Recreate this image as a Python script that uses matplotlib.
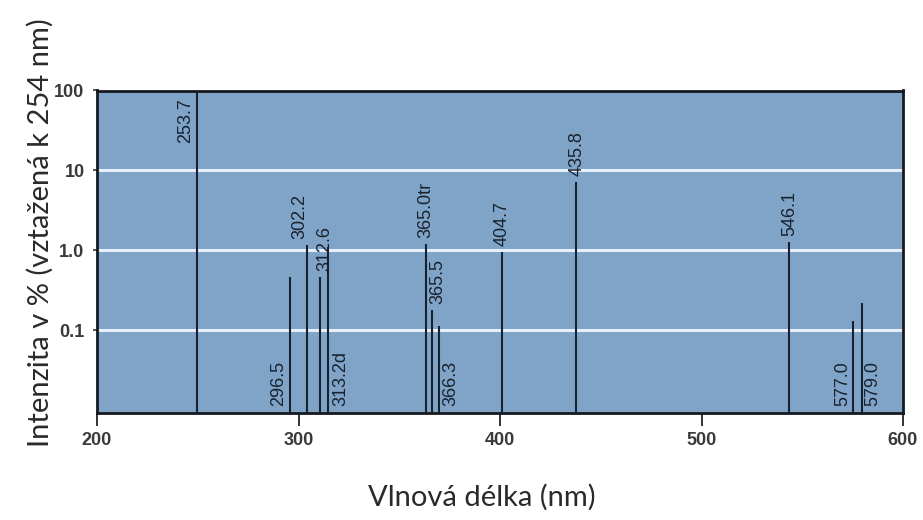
import matplotlib
matplotlib.use("Agg")
import matplotlib.pyplot as plt

# ---- data ----
line_x = [249.8, 295.8, 304.0, 310.7, 314.8, 363.3, 366.4, 369.9, 400.8, 437.6, 543.4, 575.4, 579.8]
intensity = [100, 0.46, 1.15, 0.46, 1.1, 1.21, 0.178, 0.112, 0.95, 7.1, 1.27, 0.13, 0.22]
line_labels = ["253.7", "296.5", "302.2", "312.6", "313.2d", "365.0tr", "365.5", "366.3",
               "404.7", "435.8", "546.1", "577.0", "579.0"]
yticks = [0.1, 1, 10, 100]
ytick_labels = ["0.1", "1.0", "10", "100"]
xticks = [200, 300, 400, 500, 600]

# ---- label placement (layout): mode and horizontal offset in pixels ----
label_mode = ["inside_top", "bottom", "top", "top", "bottom", "top", "top", "bottom",
              "top", "top", "top", "bottom", "bottom"]
label_dx = [-12, -11, -7, 5, 13, 0, 6, 11, 1, 1, 1, -11, 11]

DPI = 100
px = 72.0 / DPI

fig = plt.figure(figsize=(9.23, 5.2), dpi=DPI)
ax = fig.add_axes([97 / 923, (520 - 413) / 520, 806 / 923, 322.5 / 520])
bg = "#80a4c8"
ax.set_facecolor(bg)
ax.set_yscale("log")
ymin = 0.0092
ax.set_ylim(ymin, 100)
ax.set_xlim(200, 600)

for yv in [0.1, 1, 10]:
    ax.axhline(yv, color="#e6f0fb", lw=2.2, zorder=1)

linecol = "#18222f"
ax.vlines(line_x, ymin, intensity, colors=linecol, lw=1.5, zorder=2)

lab_kw = dict(rotation=90, ha="center", fontsize=13, family="Liberation Sans",
              color=linecol, zorder=3, textcoords="offset points")
for x, v, lab, mode, dx in zip(line_x, intensity, line_labels, label_mode, label_dx):
    if mode == "top":
        ax.annotate(lab, (x, v), xytext=(dx * px, 6 * px), va="bottom", **lab_kw)
    elif mode == "bottom":
        ax.annotate(lab, (x, ymin), xytext=(dx * px, 7 * px), va="bottom", **lab_kw)
    else:
        ax.annotate(lab, (x, 100), xytext=(dx * px, -8 * px), va="top", **lab_kw)

ax.set_yticks(yticks)
ax.set_yticklabels(ytick_labels)
ax.yaxis.set_minor_locator(matplotlib.ticker.NullLocator())
ax.set_xticks(xticks)
ax.set_xticklabels([str(t) for t in xticks])

for lab in ax.get_xticklabels() + ax.get_yticklabels():
    lab.set_family("Liberation Sans")
    lab.set_fontweight("bold")
    lab.set_fontsize(13)
    lab.set_color("#3a3a3a")

ax.tick_params(axis="x", direction="out", length=9, width=1.4, color="#333333", pad=5)
ax.tick_params(axis="y", direction="out", length=3, width=1.2, color="#333333", pad=6)

for s in ax.spines.values():
    s.set_linewidth(2.0)
    s.set_color("#151a20")

fig.text(40 / 923, 1 - 233 / 520, "Intenzita v % (vztažená k 254 nm)", rotation=90,
         ha="center", va="center", fontsize=21, family="Lato", color="#2a2a2a")
fig.text(482 / 923, 1 - 497 / 520, "Vlnová délka (nm)", ha="center", va="center",
         fontsize=21, family="Lato", color="#2a2a2a")

fig.savefig("out.png", dpi=DPI, facecolor="white")
